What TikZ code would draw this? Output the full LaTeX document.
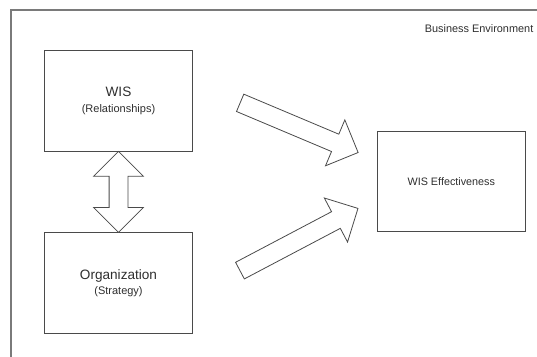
\documentclass[tikz,border=0pt]{standalone}
\usepackage{fontspec}
\setmainfont{Liberation Sans}
\usetikzlibrary{positioning, shapes.arrows}
\definecolor{edge}{HTML}{4A4A4A}
\definecolor{ink}{HTML}{2E2E2E}
\definecolor{frameline}{HTML}{7A7A7A}
\newcommand{\subtitle}[1]{{\fontsize{11pt}{15.5pt}\selectfont #1}}
\tikzset{
  block/.style    = {draw=edge, line width=0.8pt, minimum width=148pt, minimum height=100.5pt,
                     inner sep=0pt, align=center, text=ink, font=\fontsize{13.6pt}{15.5pt}\selectfont},
  result/.style   = {block, font=\fontsize{10.8pt}{13pt}\selectfont},
  bigarrow/.style = {single arrow, draw=edge, line width=0.8pt, fill=white, inner xsep=0pt,
                     inner ysep=9pt, single arrow head extend=15.5pt},
  twoway/.style   = {double arrow, draw=edge, line width=0.8pt, fill=white, inner xsep=0pt,
                     inner ysep=9pt, double arrow head extend=15.5pt},
  frame/.style    = {draw=frameline, line width=1.4pt},
  note/.style     = {text=ink, font=\fontsize{10.9pt}{13pt}\selectfont, inner sep=0pt},
}

\begin{document}
\begin{tikzpicture}[x=1pt, y=-1pt]

\useasboundingbox (0,0) rectangle (537,356);

% environment around the model
\draw[frame] (11,10) rectangle (570,390);
\node[note, anchor=east] (env) at (533.5,29) {Business Environment};

% the three constructs
\node[block] (wis) at (118.5,100.7) {WIS\\\subtitle{(Relationships)}};
\node[block, below=81pt of wis] (org) {Organization\\\subtitle{(Strategy)}};
\node[result] (eff) at (451.3,181.5) {WIS Effectiveness};

% tails and tips of the two influence arrows
\coordinate (up0) at (235.8,101);
\coordinate (up1) at (353.8,150.7);
\coordinate (lo0) at (235.8,272.8);
\coordinate (lo1) at (353.8,210.6);

\path (up0) -- node[sloped, bigarrow, minimum height=128pt] {} (up1);
\path (lo0) -- node[sloped, bigarrow, minimum height=133.4pt] {} (lo1);
\path (wis.south) -- node[sloped, twoway, minimum height=81pt] {} (org.north);

\end{tikzpicture}
\end{document}
